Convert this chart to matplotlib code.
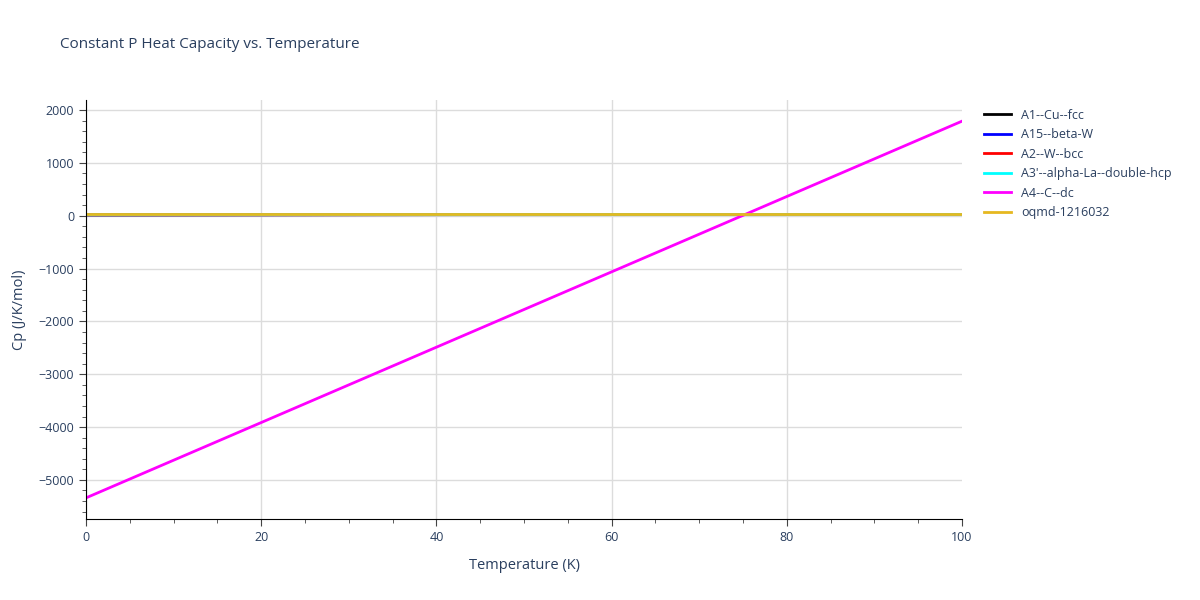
import matplotlib.pyplot as plt
from matplotlib.ticker import MultipleLocator

plt.rcParams['font.family'] = ['Open Sans', 'DejaVu Sans']

temperature = [0, 10, 20, 30, 40, 50, 60, 70, 80, 90, 100]
series_names = ["A1--Cu--fcc", "A15--beta-W", "A2--W--bcc",
                "A3'--alpha-La--double-hcp", "A4--C--dc", "oqmd-1216032"]
series_colors = ["#000000", "#0000ff", "#ff0000", "#00ffff", "#ff00ff", "#e6b820"]
cp_a1 = [16, 17, 18, 19, 20, 20.5, 21, 21.5, 22, 22.5, 23]
cp_a15 = [17, 18, 19, 20, 21, 21.5, 22, 22.5, 23, 23.3, 23.6]
cp_a2 = [16, 17.5, 19, 20, 21, 21.8, 22.4, 22.9, 23.3, 23.6, 23.9]
cp_a3 = [18, 19.5, 20.5, 21.3, 22, 22.5, 23, 23.3, 23.6, 23.8, 24]
cp_a4 = [-5340, -4627, -3914, -3201, -2488, -1775, -1062, -349, 364, 1077, 1790]
cp_oqmd = [24, 24, 24, 24, 24, 24, 24, 24, 24, 24, 24]
all_cp = [cp_a1, cp_a15, cp_a2, cp_a3, cp_a4, cp_oqmd]

txt = '#2a3f5f'
fig = plt.figure(figsize=(12, 6), dpi=100)
ax = fig.add_axes([0.0717, 0.135, 0.73, 0.6983])

for name, color, cp in zip(series_names, series_colors, all_cp):
    ax.plot(temperature, cp, color=color, lw=2, label=name)

ax.set_xlim(0, 100)
ax.set_ylim(-5740, 2190)
ax.xaxis.set_major_locator(MultipleLocator(20))
ax.xaxis.set_minor_locator(MultipleLocator(5))
ax.yaxis.set_major_locator(MultipleLocator(1000))
ax.yaxis.set_minor_locator(MultipleLocator(200))
ax.grid(which='major', color='#dcdcdc', lw=1)
ax.set_axisbelow(True)
for s in ['top', 'right']:
    ax.spines[s].set_visible(False)
for s in ['left', 'bottom']:
    ax.spines[s].set_color('#000000')
ax.tick_params(which='major', length=5, color='#444444', labelsize=9, labelcolor=txt)
ax.tick_params(which='minor', length=3, color='#444444')
ax.set_yticklabels([f'{int(v)}'.replace('-', '\u2212') for v in ax.get_yticks()])
ax.set_xlabel('Temperature (K)', fontsize=10.5, color=txt, labelpad=10)
ax.set_ylabel('Cp (J/K/mol)', fontsize=10.5, color=txt, labelpad=8)

# no gridline at the x = 100 edge in the original
for xv, gl in zip(ax.get_xticks(), ax.xaxis.get_gridlines()):
    if xv >= 100:
        gl.set_visible(False)

fig.text(0.05, 0.925, 'Constant P Heat Capacity vs. Temperature',
         fontsize=11, color=txt, va='center')
ax.legend(loc='upper left', bbox_to_anchor=(1.015, 1.0), frameon=False,
          fontsize=9, labelcolor=txt, handlelength=2.2, labelspacing=0.52,
          borderaxespad=0.3)

plt.savefig('out.png')
